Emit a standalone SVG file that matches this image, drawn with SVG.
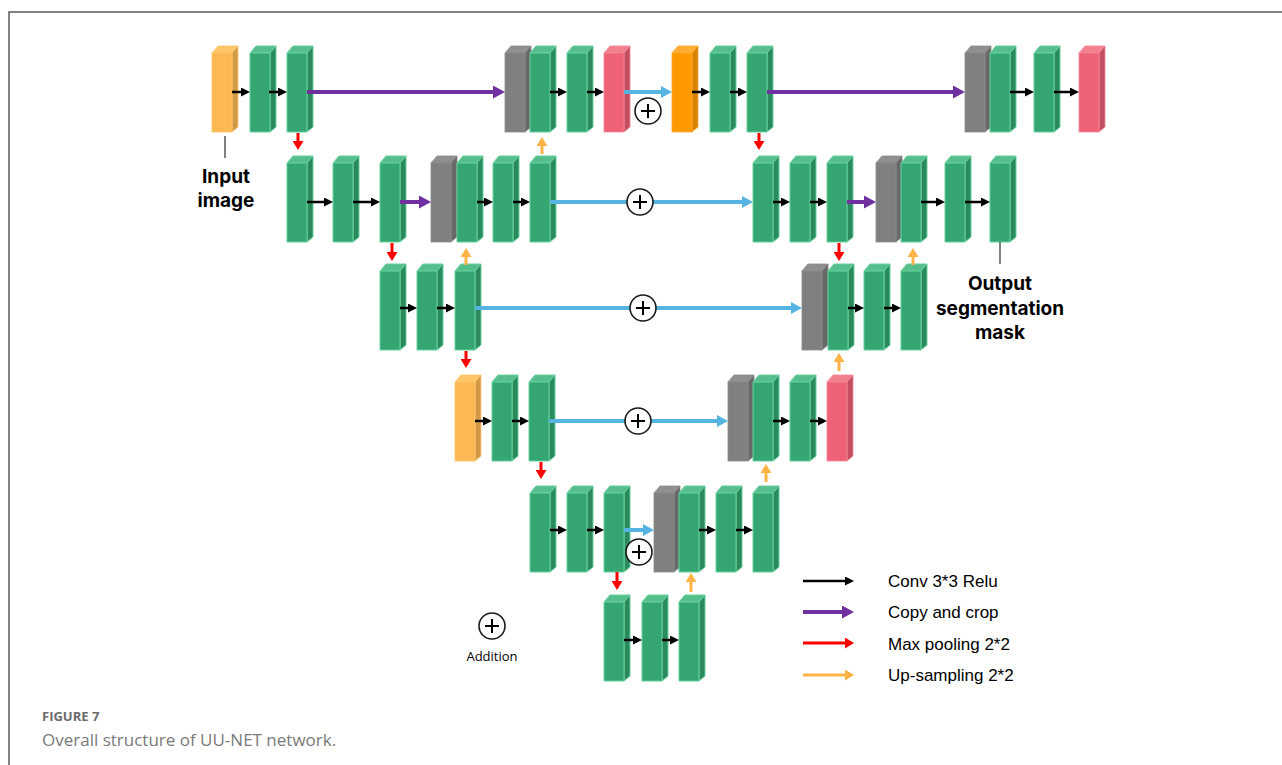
<svg xmlns="http://www.w3.org/2000/svg" xmlns:xlink="http://www.w3.org/1999/xlink" width="1282" height="765" viewBox="0 0 1282 765">
<style>
.frame{stroke:#5a5a5a;stroke-width:1.5;fill:none}
.bk{stroke:#000;stroke-width:2.5;fill:none}
.pu{stroke:#7030A0;stroke-width:4;fill:none}
.bl{stroke:#56B4E3;stroke-width:4;fill:none}
.rd{stroke:#FF0000;stroke-width:3;fill:none}
.og{stroke:#FFB347;stroke-width:3;fill:none}
.add{fill:#fff;stroke:#1a1a1a;stroke-width:1.6}
.plus{stroke:#000;stroke-width:2;fill:none}
.lbl{font-family:Inter,"Liberation Sans",sans-serif;font-weight:700;font-size:19px;fill:#000;text-anchor:middle}
.leg{font-family:"Liberation Sans",Arial,sans-serif;font-size:17px;fill:#000}
.small{font-family:"Open Sans","Liberation Sans",sans-serif;font-size:13px;fill:#000;text-anchor:middle}
.cap1{font-family:"Open Sans","Liberation Sans",sans-serif;font-weight:700;font-size:13px;fill:#6b6b6b}
.cap2{font-family:"Open Sans","Liberation Sans",sans-serif;font-size:17px;fill:#7a7a7a}
</style>
<defs>
<marker id="mBk" markerUnits="userSpaceOnUse" markerWidth="9" markerHeight="9" refX="0" refY="4.5" orient="auto"><path d="M0,0 L9,4.5 L0,9 z" fill="#000"/></marker>
<marker id="mPu" markerUnits="userSpaceOnUse" markerWidth="12" markerHeight="13" refX="0" refY="6.5" orient="auto"><path d="M0,0 L12,6.5 L0,13 z" fill="#7030A0"/></marker>
<marker id="mBl" markerUnits="userSpaceOnUse" markerWidth="11" markerHeight="12" refX="0" refY="6" orient="auto"><path d="M0,0 L11,6 L0,12 z" fill="#56B4E3"/></marker>
<marker id="mRd" markerUnits="userSpaceOnUse" markerWidth="9" markerHeight="11" refX="0" refY="5.5" orient="auto"><path d="M0,0 L9,5.5 L0,11 z" fill="#FF0000"/></marker>
<marker id="mOg" markerUnits="userSpaceOnUse" markerWidth="9" markerHeight="11" refX="0" refY="5.5" orient="auto"><path d="M0,0 L9,5.5 L0,11 z" fill="#FFB347"/></marker>
<g id="bGreen" stroke="#66D19C" stroke-width="1" stroke-linejoin="round">
<polygon points="0,0 6,-7 26,-7 20,0" fill="#55BE8C"/>
<polygon points="20,0 26,-7 26,74 20,79" fill="#2B8A5C"/>
<rect x="0" y="0" width="20" height="79" fill="#35A672"/>
</g>
<g id="bGray" stroke="#8a8a8a" stroke-width="0.8">
<polygon points="0,0 6,-7 26,-7 20,0" fill="#8f8f8f"/>
<polygon points="20,0 26,-7 26,74 20,79" fill="#686868"/>
<rect x="0" y="0" width="20" height="79" fill="#808080"/>
</g>
<g id="bOrange" stroke="#FFC56E" stroke-width="0.8">
<polygon points="0,0 6,-7 26,-7 20,0" fill="#FFC569"/>
<polygon points="20,0 26,-7 26,74 20,79" fill="#D39A46"/>
<rect x="0" y="0" width="20" height="79" fill="#FDB853"/>
</g>
<g id="bOrange2" stroke="#FFAA33" stroke-width="0.8">
<polygon points="0,0 6,-7 26,-7 20,0" fill="#FFAD33"/>
<polygon points="20,0 26,-7 26,74 20,79" fill="#D88200"/>
<rect x="0" y="0" width="20" height="79" fill="#FF9900"/>
</g>
<g id="bPink" stroke="#F3899A" stroke-width="0.8">
<polygon points="0,0 6,-7 26,-7 20,0" fill="#F2808F"/>
<polygon points="20,0 26,-7 26,74 20,79" fill="#C34D61"/>
<rect x="0" y="0" width="20" height="79" fill="#EE6177"/>
</g>
<g id="addSym">
<circle cx="0" cy="0" r="13" class="add"/>
<path d="M-7,0 H7 M0,-7 V7" class="plus"/>
</g>
</defs>
<rect x="0" y="0" width="1282" height="765" fill="#fff"/>
<path d="M9,765 V12 H1282" class="frame"/>

<!-- Row 1 -->
<g id="row1">
<use id="n1a" href="#bOrange" x="212" y="53"/>
<use id="n1b" href="#bGreen" x="250" y="53"/>
<use id="n1c" href="#bGreen" x="287" y="53"/>
<use id="n1d" href="#bGray" x="505" y="53"/>
<use id="n1e" href="#bGreen" x="530" y="53"/>
<use id="n1f" href="#bGreen" x="567" y="53"/>
<use id="n1g" href="#bPink" x="604" y="53"/>
<use id="n1h" href="#bOrange2" x="672" y="53"/>
<use id="n1i" href="#bGreen" x="710" y="53"/>
<use id="n1j" href="#bGreen" x="747" y="53"/>
<use id="n1k" href="#bGray" x="965" y="53"/>
<use id="n1l" href="#bGreen" x="990" y="53"/>
<use id="n1m" href="#bGreen" x="1034" y="53"/>
<use id="n1n" href="#bPink" x="1079" y="53"/>
</g>
<!-- Row 2 -->
<g id="row2">
<use id="n2a" href="#bGreen" x="287" y="163"/>
<use id="n2b" href="#bGreen" x="333" y="163"/>
<use id="n2c" href="#bGreen" x="380" y="163"/>
<use id="n2d" href="#bGray" x="431" y="163"/>
<use id="n2e" href="#bGreen" x="457" y="163"/>
<use id="n2f" href="#bGreen" x="493" y="163"/>
<use id="n2g" href="#bGreen" x="530" y="163"/>
<use id="n2h" href="#bGreen" x="753" y="163"/>
<use id="n2i" href="#bGreen" x="790" y="163"/>
<use id="n2j" href="#bGreen" x="827" y="163"/>
<use id="n2k" href="#bGray" x="876" y="163"/>
<use id="n2l" href="#bGreen" x="901" y="163"/>
<use id="n2m" href="#bGreen" x="945" y="163"/>
<use id="n2n" href="#bGreen" x="990" y="163"/>
</g>
<!-- Row 3 -->
<g id="row3">
<use id="n3a" href="#bGreen" x="380" y="271"/>
<use id="n3b" href="#bGreen" x="417" y="271"/>
<use id="n3c" href="#bGreen" x="455" y="271"/>
<use id="n3d" href="#bGray" x="802" y="271"/>
<use id="n3e" href="#bGreen" x="828" y="271"/>
<use id="n3f" href="#bGreen" x="864" y="271"/>
<use id="n3g" href="#bGreen" x="901" y="271"/>
</g>
<!-- Row 4 -->
<g id="row4">
<use id="n4a" href="#bOrange" x="455" y="382"/>
<use id="n4b" href="#bGreen" x="492" y="382"/>
<use id="n4c" href="#bGreen" x="529" y="382"/>
<use id="n4d" href="#bGray" x="728" y="382"/>
<use id="n4e" href="#bGreen" x="753" y="382"/>
<use id="n4f" href="#bGreen" x="790" y="382"/>
<use id="n4g" href="#bPink" x="827" y="382"/>
</g>
<!-- Row 5 -->
<g id="row5">
<use id="n5a" href="#bGreen" x="530" y="493"/>
<use id="n5b" href="#bGreen" x="567" y="493"/>
<use id="n5c" href="#bGreen" x="604" y="493"/>
<use id="n5d" href="#bGray" x="654" y="493"/>
<use id="n5e" href="#bGreen" x="679" y="493"/>
<use id="n5f" href="#bGreen" x="716" y="493"/>
<use id="n5g" href="#bGreen" x="753" y="493"/>
</g>
<!-- Row 6 -->
<g id="row6">
<use id="n6a" href="#bGreen" x="604" y="602"/>
<use id="n6b" href="#bGreen" x="642" y="602"/>
<use id="n6c" href="#bGreen" x="679" y="602"/>
</g>

<g id="connectors">
<!-- row 1 -->
<line x1="232" y1="92" x2="241" y2="92" class="bk" marker-end="url(#mBk)"/>
<line x1="269" y1="92" x2="278" y2="92" class="bk" marker-end="url(#mBk)"/>
<line x1="307" y1="92" x2="493" y2="92" class="pu" marker-end="url(#mPu)"/>
<line x1="550" y1="92" x2="558" y2="92" class="bk" marker-end="url(#mBk)"/>
<line x1="587" y1="92" x2="595" y2="92" class="bk" marker-end="url(#mBk)"/>
<line x1="624" y1="92" x2="661" y2="92" class="bl" marker-end="url(#mBl)"/>
<line x1="692" y1="92" x2="701" y2="92" class="bk" marker-end="url(#mBk)"/>
<line x1="730" y1="92" x2="738" y2="92" class="bk" marker-end="url(#mBk)"/>
<line x1="767" y1="92" x2="953" y2="92" class="pu" marker-end="url(#mPu)"/>
<line x1="1010" y1="92" x2="1025" y2="92" class="bk" marker-end="url(#mBk)"/>
<line x1="1054" y1="92" x2="1070" y2="92" class="bk" marker-end="url(#mBk)"/>
<line x1="298" y1="133" x2="298" y2="141" class="rd" marker-end="url(#mRd)"/>
<line x1="759" y1="133" x2="759" y2="141" class="rd" marker-end="url(#mRd)"/>
<line x1="542" y1="154" x2="542" y2="146" class="og" marker-end="url(#mOg)"/>
<!-- row 2 -->
<line x1="307" y1="202" x2="324" y2="202" class="bk" marker-end="url(#mBk)"/>
<line x1="353" y1="202" x2="371" y2="202" class="bk" marker-end="url(#mBk)"/>
<line x1="400" y1="202" x2="419" y2="202" class="pu" marker-end="url(#mPu)"/>
<line x1="477" y1="202" x2="484" y2="202" class="bk" marker-end="url(#mBk)"/>
<line x1="513" y1="202" x2="521" y2="202" class="bk" marker-end="url(#mBk)"/>
<line x1="550" y1="202" x2="742" y2="202" class="bl" marker-end="url(#mBl)"/>
<line x1="773" y1="202" x2="781" y2="202" class="bk" marker-end="url(#mBk)"/>
<line x1="810" y1="202" x2="818" y2="202" class="bk" marker-end="url(#mBk)"/>
<line x1="847" y1="202" x2="864" y2="202" class="pu" marker-end="url(#mPu)"/>
<line x1="921" y1="202" x2="936" y2="202" class="bk" marker-end="url(#mBk)"/>
<line x1="965" y1="202" x2="981" y2="202" class="bk" marker-end="url(#mBk)"/>
<line x1="392" y1="243" x2="392" y2="252" class="rd" marker-end="url(#mRd)"/>
<line x1="839" y1="243" x2="839" y2="252" class="rd" marker-end="url(#mRd)"/>
<line x1="466" y1="265" x2="466" y2="257" class="og" marker-end="url(#mOg)"/>
<line x1="913" y1="265" x2="913" y2="257" class="og" marker-end="url(#mOg)"/>
<!-- row 3 -->
<line x1="400" y1="308" x2="408" y2="308" class="bk" marker-end="url(#mBk)"/>
<line x1="437" y1="308" x2="446" y2="308" class="bk" marker-end="url(#mBk)"/>
<line x1="475" y1="308" x2="791" y2="308" class="bl" marker-end="url(#mBl)"/>
<line x1="848" y1="308" x2="855" y2="308" class="bk" marker-end="url(#mBk)"/>
<line x1="884" y1="308" x2="892" y2="308" class="bk" marker-end="url(#mBk)"/>
<line x1="466" y1="351" x2="466" y2="359" class="rd" marker-end="url(#mRd)"/>
<line x1="839" y1="371" x2="839" y2="362" class="og" marker-end="url(#mOg)"/>
<!-- row 4 -->
<line x1="475" y1="421" x2="483" y2="421" class="bk" marker-end="url(#mBk)"/>
<line x1="512" y1="421" x2="520" y2="421" class="bk" marker-end="url(#mBk)"/>
<line x1="549" y1="421" x2="717" y2="421" class="bl" marker-end="url(#mBl)"/>
<line x1="773" y1="421" x2="781" y2="421" class="bk" marker-end="url(#mBk)"/>
<line x1="810" y1="421" x2="818" y2="421" class="bk" marker-end="url(#mBk)"/>
<line x1="541" y1="462" x2="541" y2="470" class="rd" marker-end="url(#mRd)"/>
<line x1="766" y1="482" x2="766" y2="473" class="og" marker-end="url(#mOg)"/>
<!-- row 5 -->
<line x1="550" y1="530" x2="558" y2="530" class="bk" marker-end="url(#mBk)"/>
<line x1="587" y1="530" x2="595" y2="530" class="bk" marker-end="url(#mBk)"/>
<line x1="624" y1="530" x2="643" y2="530" class="bl" marker-end="url(#mBl)"/>
<line x1="699" y1="530" x2="707" y2="530" class="bk" marker-end="url(#mBk)"/>
<line x1="736" y1="530" x2="744" y2="530" class="bk" marker-end="url(#mBk)"/>
<line x1="617" y1="572" x2="617" y2="581" class="rd" marker-end="url(#mRd)"/>
<line x1="691" y1="592" x2="691" y2="582" class="og" marker-end="url(#mOg)"/>
<!-- row 6 -->
<line x1="624" y1="640" x2="633" y2="640" class="bk" marker-end="url(#mBk)"/>
<line x1="662" y1="640" x2="670" y2="640" class="bk" marker-end="url(#mBk)"/>
<!-- label leaders -->
<line x1="225" y1="136" x2="225" y2="158" stroke="#000" stroke-width="1"/>
<line x1="1000" y1="242" x2="1000" y2="264" stroke="#000" stroke-width="1"/>
</g>

<g id="additions">
<use href="#addSym" x="648" y="111"/>
<use href="#addSym" x="640" y="202"/>
<use href="#addSym" x="643" y="308"/>
<use href="#addSym" x="638" y="421"/>
<use href="#addSym" x="639" y="552"/>
</g>

<g id="labels">
<text class="lbl" x="226" y="183">Input</text>
<text class="lbl" x="226" y="207">image</text>
<text class="lbl" x="1000" y="290">Output</text>
<text class="lbl" x="1000" y="315">segmentation</text>
<text class="lbl" x="1000" y="339">mask</text>
</g>

<g id="legend">
<use href="#addSym" x="492" y="626"/>
<text class="small" x="492" y="661">Addition</text>
<line x1="803" y1="581" x2="845" y2="581" class="bk" marker-end="url(#mBk)"/>
<line x1="803" y1="612" x2="842" y2="612" class="pu" marker-end="url(#mPu)"/>
<line x1="803" y1="643" x2="845" y2="643" class="rd" marker-end="url(#mRd)"/>
<line x1="803" y1="675" x2="845" y2="675" class="og" marker-end="url(#mOg)"/>
<text class="leg" x="888" y="587">Conv 3*3 Relu</text>
<text class="leg" x="888" y="618">Copy and crop</text>
<text class="leg" x="888" y="650">Max pooling 2*2</text>
<text class="leg" x="888" y="681">Up-sampling 2*2</text>
</g>

<g id="caption">
<text class="cap1" x="42" y="721">FIGURE 7</text>
<text class="cap2" x="42" y="746">Overall structure of UU-NET network.</text>
</g>
</svg>
